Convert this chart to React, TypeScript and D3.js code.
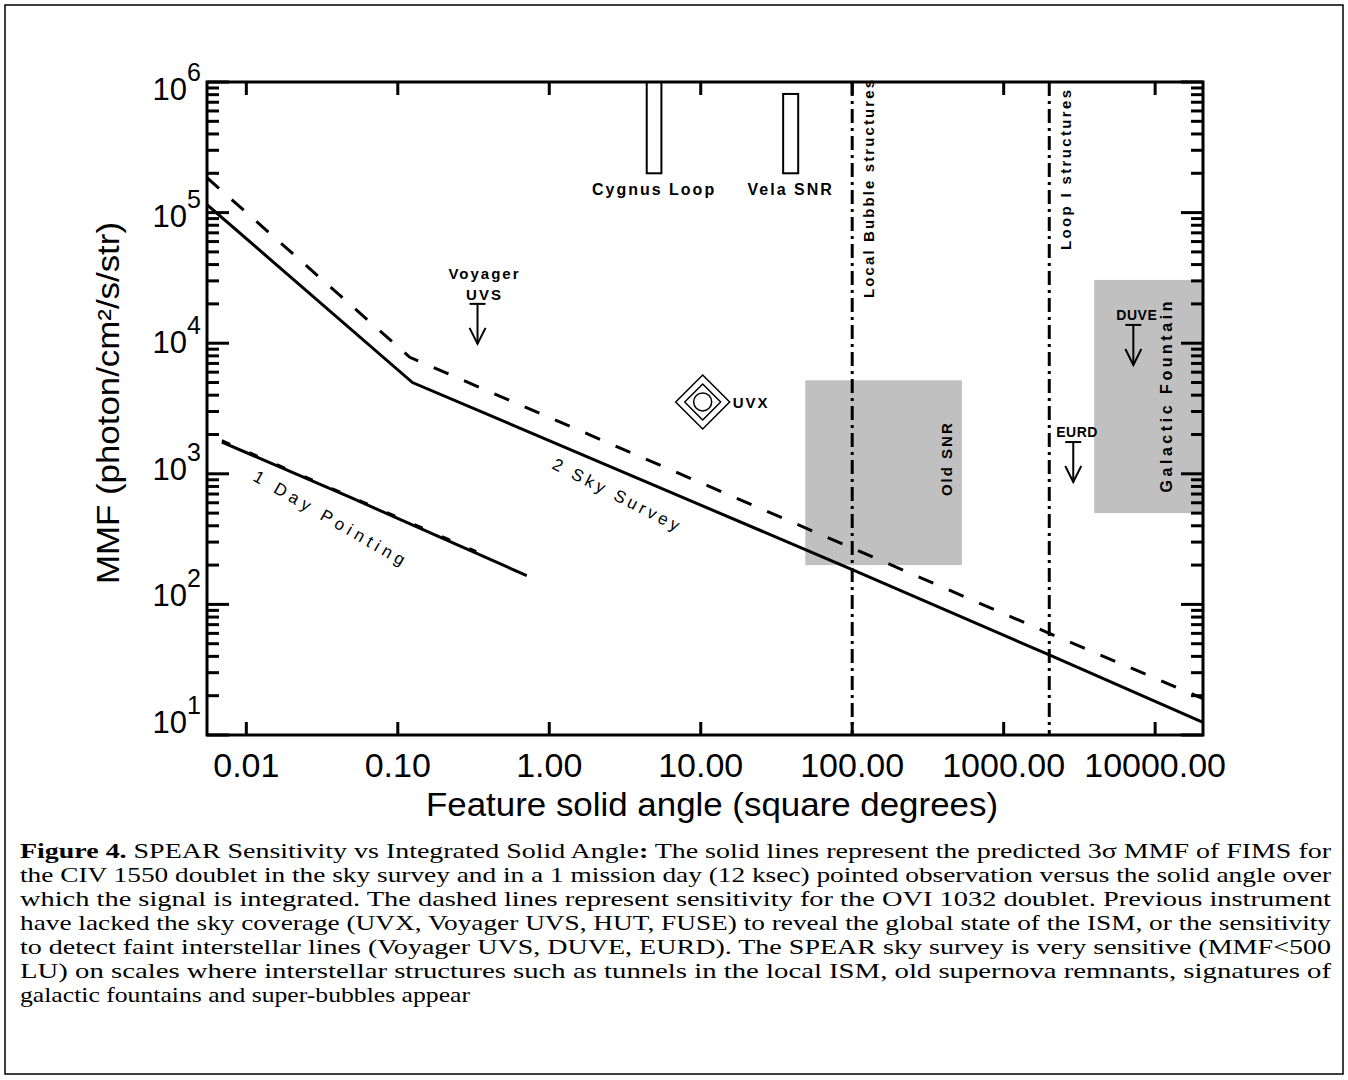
import React from "react";
import * as d3 from "d3";

const W = 1348;
const H = 1080;
const frame = { left: 207, top: 82, right: 1203, bottom: 735 };

// axis extents: feature solid angle (sq. deg) and MMF (photon/cm2/s/sr)
const xDomain = [0.0055, 20700];
const yDomain = [10, 1e6];
const xTicks = [0.01, 0.1, 1, 10, 100, 1000, 10000];
const yExponents = [1, 2, 3, 4, 5, 6];
const minorMultipliers = [2, 3, 4, 5, 6, 7, 8, 9];

// CIV 1550 (solid) and OVI 1032 (dashed), sky survey
const surveyCIV = [[0.0055, 1.15e5], [0.125, 5000], [100, 185], [2000, 41], [20700, 12.5]];
const surveyOVI = [[0.0055, 1.85e5], [0.12, 7800], [100, 270], [2000, 60], [20700, 19]];
// 1 mission day pointed observation
const pointingCIV = [[0.0069, 1750], [0.05, 650], [0.71, 166]];
const pointingOVI = [[0.0069, 1800], [0.33, 255]];

const snrBars = [
  { name: "Cygnus Loop", x0: 4.4, x1: 5.5, y0: 2.0e5, y1: 1e6 },
  { name: "Vela SNR", x0: 35, x1: 44, y0: 2.0e5, y1: 8.1e5 },
];
const regions = [
  { name: "Old SNR", x0: 49, x1: 530, y0: 200, y1: 5200 },
  { name: "Galactic Fountain", x0: 3960, x1: 20700, y0: 500, y1: 30500 },
];
const structures = [
  { name: "Local Bubble structures", x: 100 },
  { name: "Loop I structures", x: 2000 },
];
const upperLimits = [
  { name: "Voyager UVS", x: 0.336, y: 2.0e4 },
  { name: "EURD", x: 2880, y: 1750 },
  { name: "DUVE", x: 7180, y: 13800 },
];
const uvx = { name: "UVX", x: 10.3, y: 3550 };

const captionLines = [
  [["b", "Figure 4."], ["n", " SPEAR Sensitivity vs Integrated Solid Angle"], ["b", ":"], ["n", " The solid lines represent the predicted 3\u03c3 MMF of FIMS for"]],
  [["n", "the CIV 1550 doublet in the sky survey and in a 1 mission day (12 ksec) pointed observation versus the solid angle over"]],
  [["n", "which the signal is integrated.  The dashed lines represent sensitivity for the OVI 1032 doublet.  Previous instrument"]],
  [["n", "have lacked the sky coverage (UVX, Voyager UVS, HUT, FUSE) to reveal the global state of the ISM, or the sensitivity"]],
  [["n", "to detect faint interstellar lines (Voyager UVS, DUVE, EURD).  The SPEAR sky survey is very sensitive (MMF<500"]],
  [["n", "LU) on scales where interstellar structures such as tunnels in the local ISM, old supernova remnants, signatures of"]],
  [["n", "galactic fountains and super-bubbles appear"]],
];

const sans = "'Liberation Sans', Arial, Helvetica, sans-serif";
const serif = "'Liberation Serif', 'Times New Roman', serif";

function UpperLimit({ cx, cy }) {
  return (
    <g stroke="#000" strokeWidth={2} fill="none">
      <line x1={cx - 8} x2={cx + 8} y1={cy} y2={cy} />
      <line x1={cx} x2={cx} y1={cy} y2={cy + 40} />
      <polyline points={`${cx - 8},${cy + 24} ${cx},${cy + 40} ${cx + 8},${cy + 24}`} />
    </g>
  );
}

export default function App() {
  const { left: L, top: T, right: R, bottom: B } = frame;
  const x = d3.scaleLog().domain(xDomain).range([L, R]);
  const y = d3.scaleLog().domain(yDomain).range([B, T]);
  const line = d3.line().x((d) => x(d[0])).y((d) => y(d[1]));
  const yLabelBase = d3.scaleLinear().domain([1, 6]).range([B - 2, T + 18]);
  const fmt = d3.format(".2f");

  const minorY = [];
  yExponents.slice(0, -1).forEach((e) => minorMultipliers.forEach((m) => minorY.push(m * Math.pow(10, e))));

  const labelStyle = { fontFamily: sans, fontWeight: "bold", fontSize: 15, letterSpacing: 2 };
  // rotated label lengths / top ends for the two structure lines
  const structLen = [220, 162];
  const structEnd = [T - 4, T + 6];

  return (
    <svg width={W} height={H} style={{ position: "absolute", left: 0, top: 0, background: "#fff" }}>
      <defs>
        <clipPath id="plot">
          <rect x={L} y={T} width={R - L} height={B - T} />
        </clipPath>
      </defs>
      <rect x={5} y={5} width={1338} height={1069} fill="none" stroke="#000" strokeWidth={1.5} />

      {/* shaded regions */}
      {regions.map((r) => (
        <rect key={r.name} x={x(r.x0)} y={y(r.y1)} width={x(r.x1) - x(r.x0)} height={y(r.y0) - y(r.y1)} fill="#c0c0c0" />
      ))}
      <text transform={`translate(${x(regions[0].x1) - 10},${(y(regions[0].y0) + y(regions[0].y1)) / 2 - 14}) rotate(-90)`} textAnchor="middle" style={labelStyle}>
        {regions[0].name}
      </text>
      <text transform={`translate(${x(regions[1].x0) + 78},${(y(regions[1].y0) + y(regions[1].y1)) / 2}) rotate(-90)`} textAnchor="middle" style={{ ...labelStyle, fontSize: 16, letterSpacing: 1 }} textLength={192}>
        {regions[1].name}
      </text>

      {/* supernova remnant bars */}
      {snrBars.map((s) => (
        <g key={s.name}>
          <rect x={x(s.x0)} y={y(s.y1)} width={x(s.x1) - x(s.x0)} height={y(s.y0) - y(s.y1)} fill="#fff" stroke="#000" strokeWidth={2} />
          <text x={(x(s.x0) + x(s.x1)) / 2} y={y(s.y0) + 22} textAnchor="middle" style={{ ...labelStyle, fontSize: 16 }}>
            {s.name}
          </text>
        </g>
      ))}

      {/* structure scales */}
      {structures.map((s, i) => (
        <g key={s.name}>
          <line x1={x(s.x)} x2={x(s.x)} y1={T} y2={B} stroke="#000" strokeWidth={3} strokeDasharray="14 5 3 5" />
          <text transform={`translate(${x(s.x) + 22},${structEnd[i]}) rotate(-90)`} textAnchor="end" textLength={structLen[i]} style={labelStyle}>
            {s.name}
          </text>
        </g>
      ))}

      {/* sensitivity curves */}
      <g clipPath="url(#plot)" fill="none" stroke="#000" strokeWidth={3}>
        <path d={line(surveyCIV)} />
        <path d={line(surveyOVI)} strokeDasharray="16 17" />
        <path d={line(pointingCIV)} />
        <path d={line(pointingOVI)} strokeDasharray="9 21" strokeWidth={2.5} />
      </g>
      <text transform="translate(252,480) rotate(30)" textLength={172} lengthAdjust="spacing" style={{ fontFamily: sans, fontSize: 17 }}>
        1 Day Pointing
      </text>
      <text transform="translate(551,468) rotate(27)" textLength={140} lengthAdjust="spacing" style={{ fontFamily: sans, fontSize: 17 }}>
        2 Sky Survey
      </text>

      {/* previous instruments */}
      {upperLimits.map((u) => {
        const cx = x(u.x);
        const cy = y(u.y);
        const words = u.name.split(" ");
        return (
          <g key={u.name}>
            <UpperLimit cx={cx} cy={cy} />
            {words.length > 1 ? (
              <text textAnchor="middle" style={labelStyle}>
                <tspan x={cx + 7} y={cy - 25}>{words[0]}</tspan>
                <tspan x={cx + 7} y={cy - 4}>{words[1]}</tspan>
              </text>
            ) : (
              <text x={cx - 17} y={cy - 5} style={{ ...labelStyle, fontSize: 14, letterSpacing: 0.5 }}>{u.name}</text>
            )}
          </g>
        );
      })}
      <g transform={`translate(${x(uvx.x)},${y(uvx.y)})`} fill="none" stroke="#000" strokeWidth={1.5}>
        <path d="M0,-27L27,0L0,27L-27,0Z" />
        <path d="M0,-18L18,0L0,18L-18,0Z" strokeLinejoin="round" />
        <circle r={9} />
      </g>
      <text x={x(uvx.x) + 30} y={y(uvx.y) + 6} style={labelStyle}>{uvx.name}</text>

      {/* axes */}
      <rect x={L} y={T} width={R - L} height={B - T} fill="none" stroke="#000" strokeWidth={3} />
      <g stroke="#000" strokeWidth={3}>
        {xTicks.map((t) => (
          <g key={t}>
            <line x1={x(t)} x2={x(t)} y1={B} y2={B - 13} />
            <line x1={x(t)} x2={x(t)} y1={T} y2={T + 13} />
          </g>
        ))}
        {yExponents.map((e) => (
          <g key={e}>
            <line x1={L} x2={L + 22} y1={y(Math.pow(10, e))} y2={y(Math.pow(10, e))} />
            <line x1={R} x2={R - 22} y1={y(Math.pow(10, e))} y2={y(Math.pow(10, e))} />
          </g>
        ))}
        {minorY.map((v) => (
          <g key={v}>
            <line x1={L} x2={L + 12} y1={y(v)} y2={y(v)} />
            <line x1={R} x2={R - 12} y1={y(v)} y2={y(v)} />
          </g>
        ))}
      </g>
      {xTicks.map((t) => (
        <text key={t} x={x(t)} y={777} textAnchor="middle" style={{ fontFamily: sans, fontSize: 34 }}>
          {fmt(t)}
        </text>
      ))}
      {yExponents.map((e) => (
        <text key={e} x={201} y={yLabelBase(e)} textAnchor="end" style={{ fontFamily: sans, fontSize: 31 }}>
          10
          <tspan dy={-19} fontSize={25}>{e}</tspan>
        </text>
      ))}
      <text x={712} y={816} textAnchor="middle" textLength={572} lengthAdjust="spacingAndGlyphs" style={{ fontFamily: sans, fontSize: 33 }}>
        Feature solid angle (square degrees)
      </text>
      <text transform="translate(119,403) rotate(-90)" textAnchor="middle" textLength={362} lengthAdjust="spacingAndGlyphs" style={{ fontFamily: sans, fontSize: 31 }}>
        MMF (photon/cm²/s/str)
      </text>

      {/* caption */}
      {captionLines.map((segs, i) => {
        const last = i === captionLines.length - 1;
        return (
          <text
            key={i}
            x={20}
            y={858 + i * 24}
            textLength={last ? 450 : 1311}
            lengthAdjust="spacingAndGlyphs"
            style={{ fontFamily: serif, fontSize: 21 }}
          >
            {segs.map(([w, s], j) => (
              <tspan key={j} fontWeight={w === "b" ? "bold" : "normal"}>{s}</tspan>
            ))}
          </text>
        );
      })}
    </svg>
  );
}
